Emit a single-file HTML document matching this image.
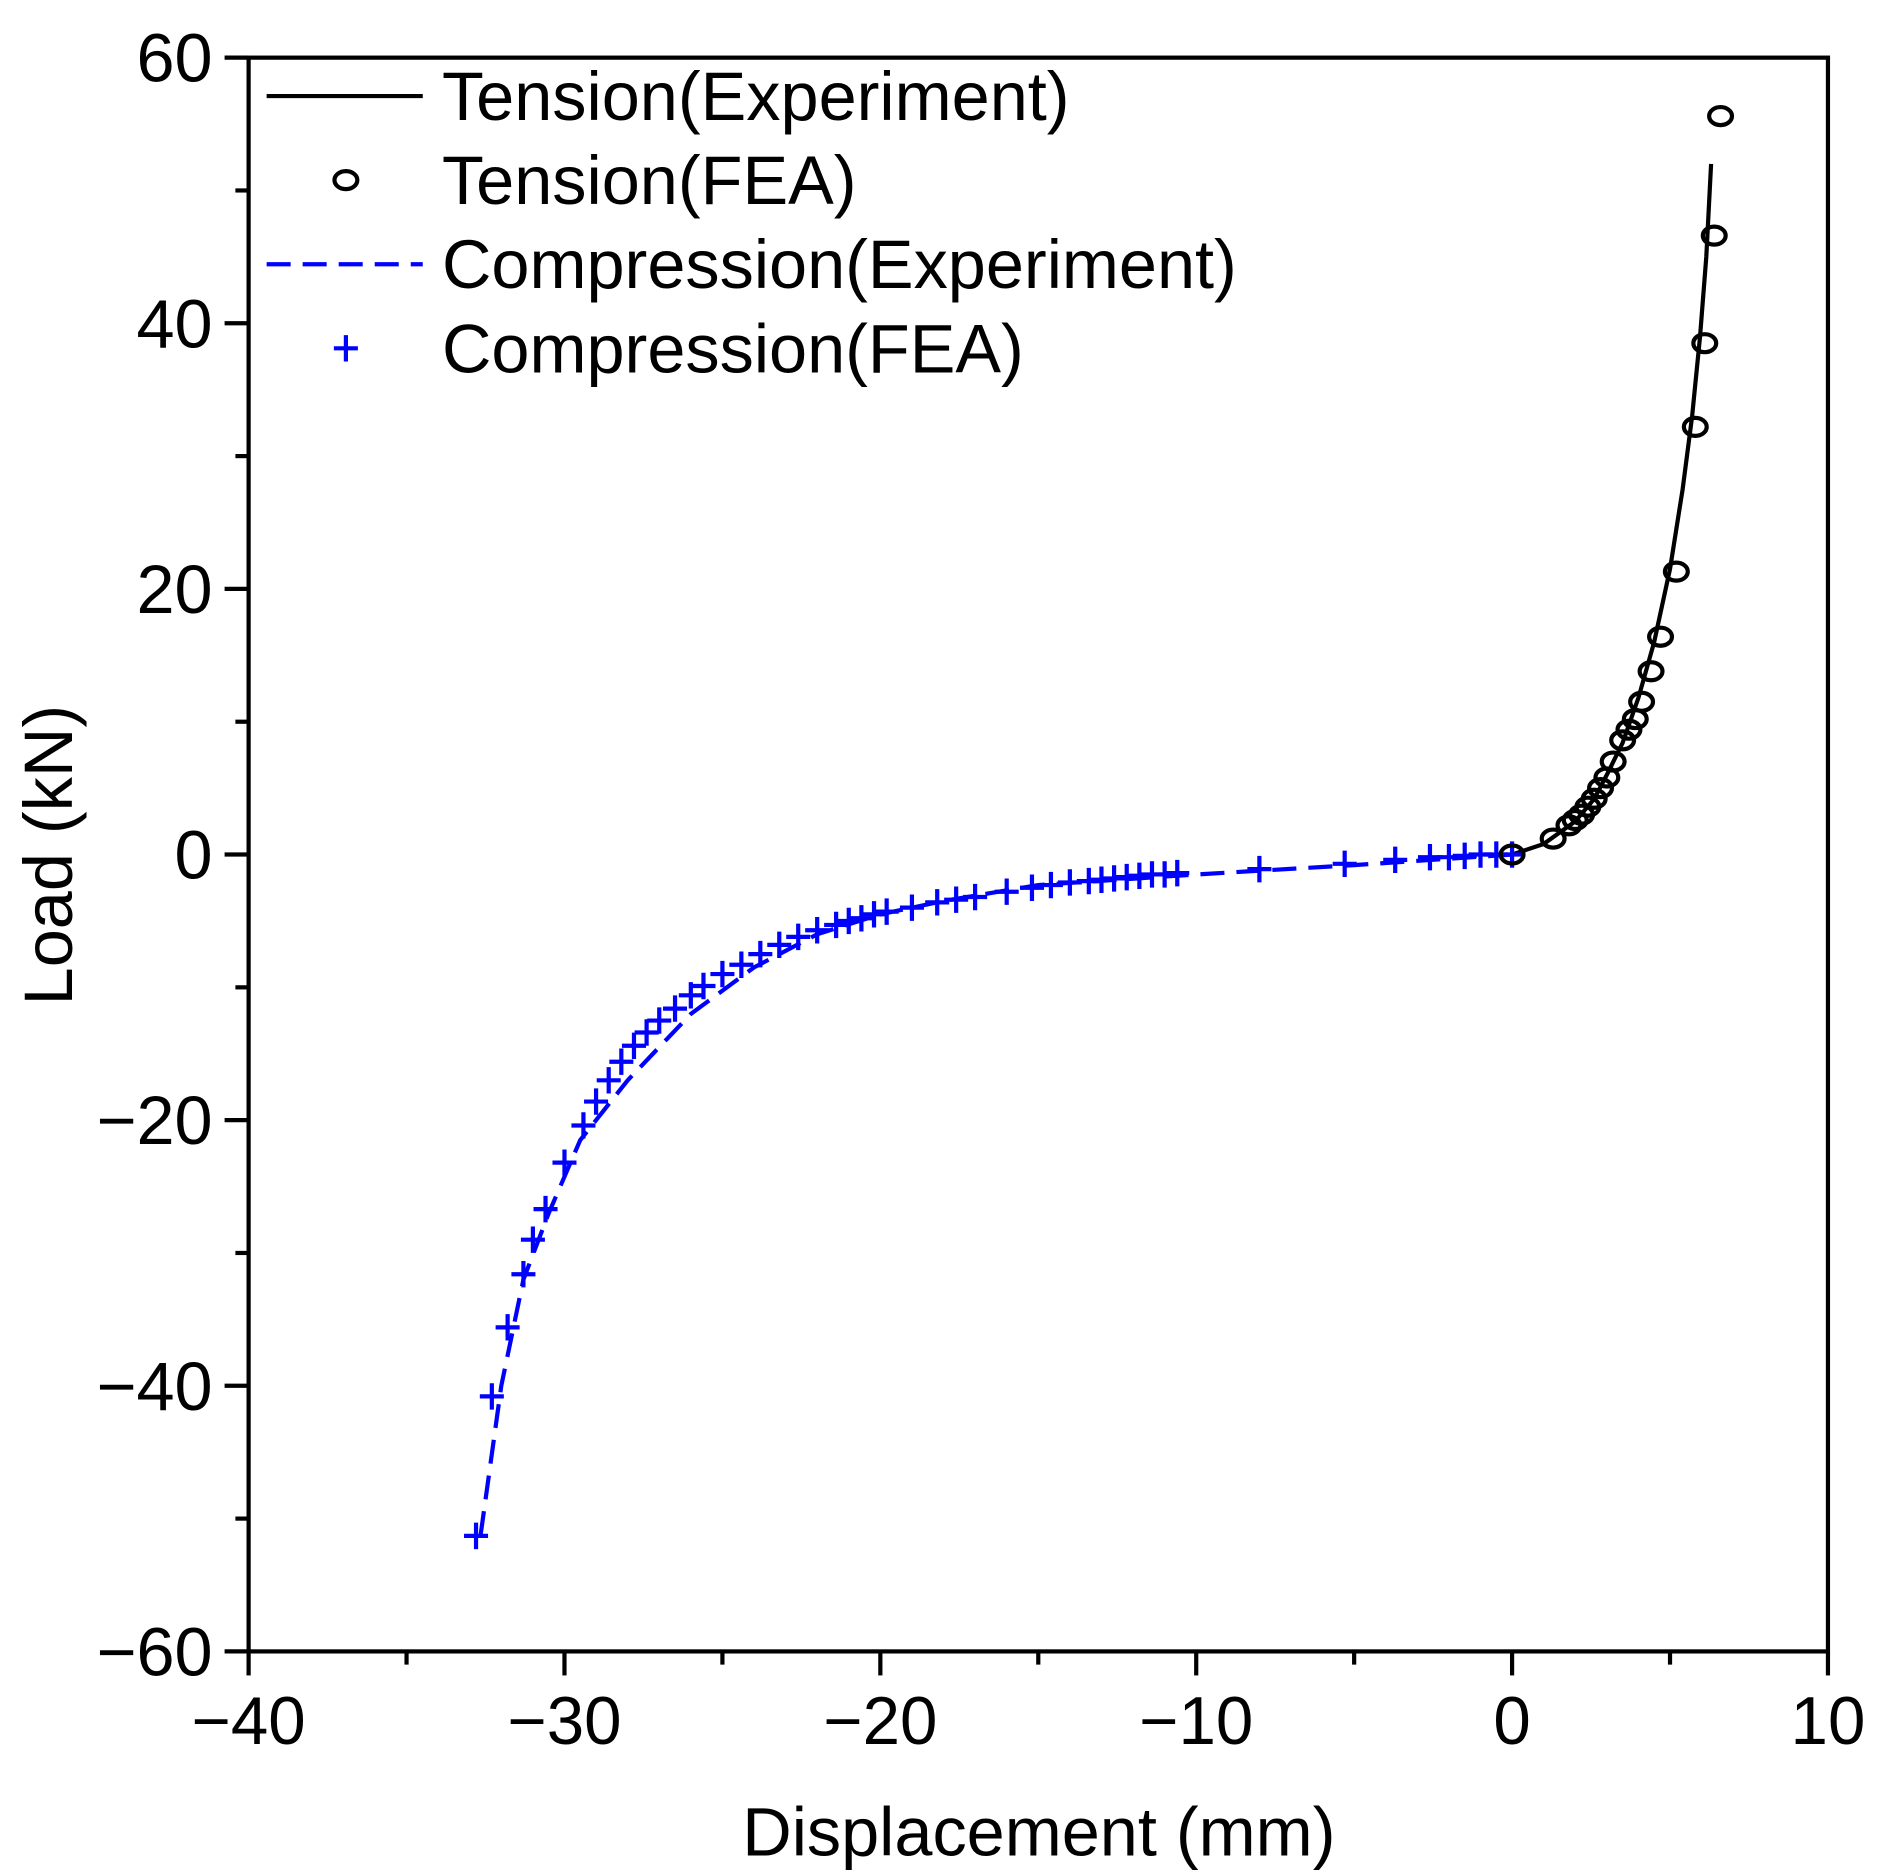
<!DOCTYPE html>
<html><head><meta charset="utf-8"><style>
html,body{margin:0;padding:0;background:#fff}
svg{display:block}
text{font-family:"Liberation Sans",Arial,sans-serif}
</style></head><body>
<svg id="chart" width="1882" height="1876" viewBox="0 0 1567 1562" preserveAspectRatio="none" xmlns="http://www.w3.org/2000/svg">
<g id="axes"></g><g id="series"></g><g id="legend"></g>
</svg>
<script>
const xTicks=[-40,-30,-20,-10,0,10];
const yTicks=[-60,-40,-20,0,20,40,60];
const tensionExpX=[0,1,2,2.6,3,3.5,4,4.5,5,5.4,5.7,5.95,6.15,6.3];
const tensionExpY=[0,0.8,2.5,4.2,6,8.4,11.8,16,21.5,27.5,33,39,45,52];
const tensionFeaX=[0,1.3,1.8,2.0,2.2,2.4,2.6,2.8,3.0,3.2,3.5,3.7,3.9,4.1,4.4,4.7,5.2,5.8,6.1,6.4,6.6];
const tensionFeaY=[0,1.2,2.2,2.6,3,3.6,4.2,5,5.8,7,8.6,9.4,10.2,11.5,13.8,16.4,21.3,32.2,38.5,46.6,55.6];
const compExpX=[0,-5,-10,-15,-18,-20,-22,-24,-26,-28,-29.5,-30.5,-31.3,-32,-32.7];
const compExpY=[0,-0.8,-1.5,-2.3,-3.5,-4.5,-6,-8.5,-12,-17,-21.5,-27,-32,-40,-52];
const compFeaX=[0,-0.5,-1,-1.5,-2,-2.6,-3.7,-5.3,-8,-10.6,-11,-11.4,-11.8,-12.2,-12.6,-13,-13.4,-14,-14.6,-15.2,-16,-17,-17.6,-18.2,-19,-19.8,-20.2,-20.6,-21,-21.4,-22,-22.6,-23.2,-23.8,-24.4,-25,-25.6,-26,-26.5,-27,-27.4,-27.8,-28.2,-28.6,-29,-29.4,-30,-30.6,-31,-31.3,-31.8,-32.3,-32.8];
const compFeaY=[0,0,0,-0.1,-0.2,-0.2,-0.4,-0.7,-1.1,-1.4,-1.5,-1.5,-1.6,-1.7,-1.8,-1.9,-2,-2.1,-2.3,-2.5,-2.8,-3.2,-3.4,-3.6,-4,-4.3,-4.5,-4.8,-5,-5.3,-5.7,-6.2,-6.8,-7.5,-8.3,-9,-9.9,-10.6,-11.6,-12.5,-13.4,-14.4,-15.6,-17,-18.6,-20.4,-23.2,-26.7,-29,-31.6,-35.6,-40.8,-51.3];

const L=207,R=1522,T=48,B=1375;
const sx=v=>L+(v+40)/50*(R-L);
const sy=v=>B-(v+60)/120*(B-T);
const NS="http://www.w3.org/2000/svg";
function mk(tag,attrs,parent){const e=document.createElementNS(NS,tag);for(const k in attrs)e.setAttribute(k,attrs[k]);parent.appendChild(e);return e;}
const axes=document.getElementById('axes'),series=document.getElementById('series'),legend=document.getElementById('legend');

let fr=mk('rect',{x:L,y:T,width:R-L,height:B-T,fill:'none',stroke:'#000','stroke-width':3.5},axes);


for(let v=-40;v<=10;v+=5){const major=v%10===0;
 let t=mk('line',{x1:sx(v),x2:sx(v),y1:B,y2:B+(major?20:11),stroke:'#000','stroke-width':3.5},axes);
 
 }
for(let v=-60;v<=60;v+=10){const major=v%20===0;
 let t=mk('line',{x1:L,x2:L-(major?20:11),y1:sy(v),y2:sy(v),stroke:'#000','stroke-width':3.5},axes);
 
 }
xTicks.forEach(v=>{let t=mk('text',{x:sx(v),y:B+77,'font-size':56,'text-anchor':'middle'},axes);t.textContent=(v<0?'\u2212':'')+Math.abs(v);
 
 });
yTicks.forEach(v=>{let t=mk('text',{x:177,y:sy(v)+20,'font-size':57,'text-anchor':'end'},axes);t.textContent=(v<0?'\u2212':'')+Math.abs(v);
 
 });
let xt=mk('text',{x:865,y:1545,'font-size':57,'text-anchor':'middle'},axes);xt.textContent='Displacement (mm)';


let yt=mk('text',{x:0,y:0,'font-size':57,'text-anchor':'middle',transform:'translate(60,712) rotate(-90)'},axes);yt.textContent='Load (kN)';



function pts(xs,ys){return xs.map((x,i)=>sx(x).toFixed(1)+','+sy(ys[i]).toFixed(1)).join(' ');}
let ce=mk('polyline',{points:pts(compExpX,compExpY),fill:'none',stroke:'#0000ff','stroke-width':3.5,'stroke-dasharray':'20,10'},series);


let te=mk('polyline',{points:pts(tensionExpX,tensionExpY),fill:'none',stroke:'#000','stroke-width':3.5},series);


function plus(cx,cy,p){let g=mk('path',{d:`M${cx-10},${cy}h20M${cx},${cy-11}v22`,stroke:'#0000ff','stroke-width':3.5,fill:'none'},p);return g;}
compFeaX.forEach((x,i)=>{let p=plus(sx(x),sy(compFeaY[i]),series);
 
 });
tensionFeaX.forEach((x,i)=>{let c=mk('ellipse',{cx:sx(x),cy:sy(tensionFeaY[i]),rx:9.5,ry:7.5,fill:'none',stroke:'#000','stroke-width':3.5},series);
 
 });

const lg=[['Tension(Experiment)',100],['Tension(FEA)',170],['Compression(Experiment)',240],['Compression(FEA)',310]];
let l1=mk('line',{x1:222,x2:352,y1:80,y2:80,stroke:'#000','stroke-width':3.5},legend);


let l2=mk('ellipse',{cx:288,cy:150,rx:9.5,ry:7.5,fill:'none',stroke:'#000','stroke-width':3.5},legend);


let l3=mk('line',{x1:222,x2:352,y1:220,y2:220,stroke:'#0000ff','stroke-width':3.5,'stroke-dasharray':'20,10'},legend);


let l4=plus(288,290,legend);


lg.forEach(([s,y])=>{let t=mk('text',{x:368,y:y,'font-size':57},legend);t.textContent=s;
 
 });
</script>
</body></html>
